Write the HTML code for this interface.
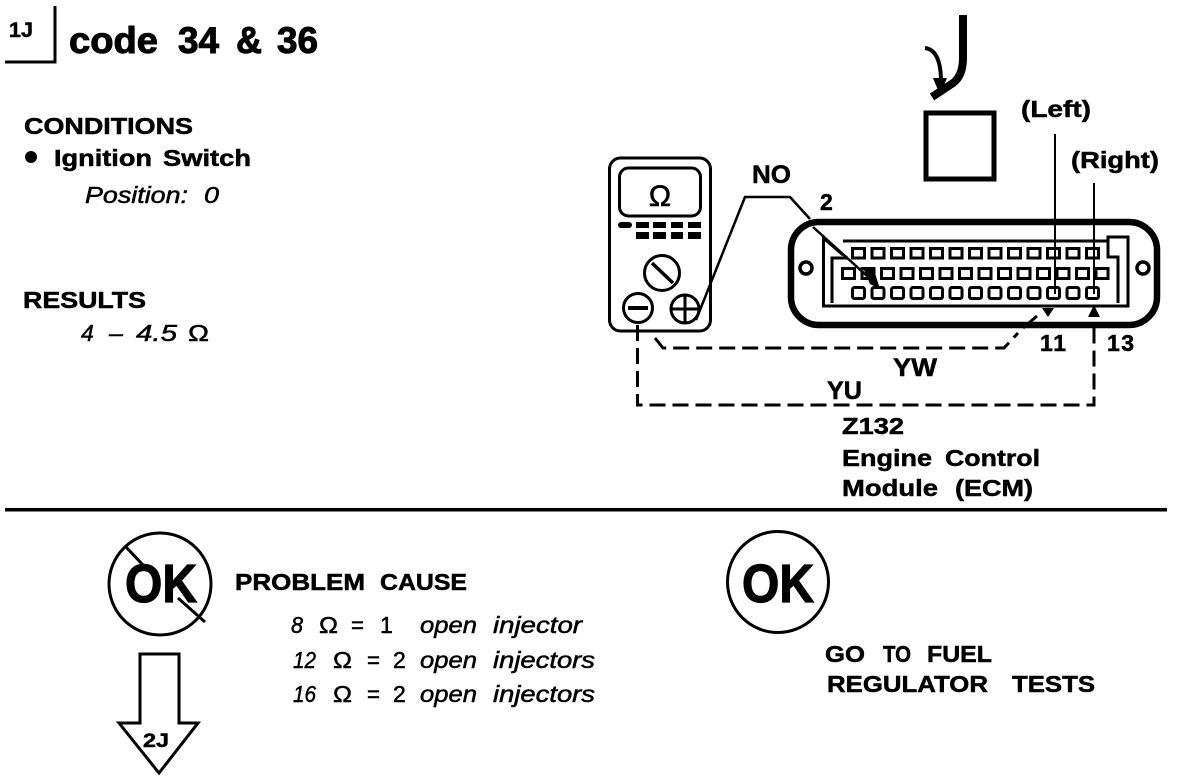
<!DOCTYPE html>
<html><head><meta charset="utf-8"><style>
html,body{margin:0;padding:0;background:#fff;width:1184px;height:782px;overflow:hidden}
svg{display:block}
text{font-family:"Liberation Sans",sans-serif;fill:#000}
.b{font-weight:bold;stroke:#000;stroke-width:.5px}
.i{font-style:italic;stroke:#000;stroke-width:.5px}
.l{fill:none;stroke:#000}
</style></head><body>
<svg width="1184" height="782" viewBox="0 0 1184 782" xmlns="http://www.w3.org/2000/svg">
<!-- header -->
<path class="l" stroke-width="3" d="M5 62H55V6"/>
<text x="9" y="37" class="b" font-size="21" textLength="24" lengthAdjust="spacingAndGlyphs">1J</text>
<g class="b" font-size="37" style="stroke-width:1px">
<text x="69" y="53" textLength="89" lengthAdjust="spacingAndGlyphs">code</text>
<text x="178" y="53" textLength="41" lengthAdjust="spacingAndGlyphs">34</text>
<text x="236" y="53" textLength="26" lengthAdjust="spacingAndGlyphs">&amp;</text>
<text x="277" y="53" textLength="41" lengthAdjust="spacingAndGlyphs">36</text>
</g>
<text x="24" y="134" class="b" font-size="23" textLength="169" lengthAdjust="spacingAndGlyphs">CONDITIONS</text>
<circle cx="31" cy="157" r="6"/>
<text x="54" y="166" class="b" font-size="23" textLength="98" lengthAdjust="spacingAndGlyphs">Ignition</text>
<text x="163" y="166" class="b" font-size="23" textLength="88" lengthAdjust="spacingAndGlyphs">Switch</text>
<text x="85" y="203" class="i" font-size="23" textLength="103" lengthAdjust="spacingAndGlyphs">Position:</text>
<text x="204" y="203" class="i" font-size="23" textLength="15" lengthAdjust="spacingAndGlyphs">0</text>
<text x="23" y="308" class="b" font-size="23" textLength="123" lengthAdjust="spacingAndGlyphs">RESULTS</text>
<text x="81" y="341" class="i" font-size="23">4</text>
<text x="109" y="341" class="i" font-size="23" textLength="14" lengthAdjust="spacingAndGlyphs">–</text>
<text x="136" y="341" class="i" font-size="23" textLength="41" lengthAdjust="spacingAndGlyphs">4.5</text>
<text x="188" y="341" font-size="23" stroke="#000" stroke-width=".5" textLength="21" lengthAdjust="spacingAndGlyphs">Ω</text>

<!-- hand-held symbol -->
<path class="l" stroke-width="8" d="M963 15V58Q963 78 950 85L932 97"/>
<path class="l" stroke-width="4" d="M925 48Q941 50 941 82"/>
<path d="M933 78H947L940 95Z"/>
<rect x="926" y="113" width="68" height="66" class="l" stroke-width="5"/>

<!-- labels -->
<text x="1021" y="117" class="b" font-size="23" textLength="70" lengthAdjust="spacingAndGlyphs">(Left)</text>
<text x="1071" y="168" class="b" font-size="23" textLength="88" lengthAdjust="spacingAndGlyphs">(Right)</text>
<text x="752" y="183" class="b" font-size="25" textLength="39" lengthAdjust="spacingAndGlyphs">NO</text>
<text x="820" y="210" class="b" font-size="23">2</text>
<text x="1040" y="351" class="b" font-size="23" textLength="26" lengthAdjust="spacing">11</text>
<text x="1107" y="351" class="b" font-size="23" textLength="27" lengthAdjust="spacing">13</text>
<text x="893" y="376" class="b" font-size="25" textLength="44" lengthAdjust="spacingAndGlyphs">YW</text>
<text x="827" y="399" class="b" font-size="25" textLength="35" lengthAdjust="spacingAndGlyphs">YU</text>
<text x="842" y="434" class="b" font-size="23" textLength="62" lengthAdjust="spacingAndGlyphs">Z132</text>
<text x="842" y="466" class="b" font-size="23" textLength="90" lengthAdjust="spacingAndGlyphs">Engine</text>
<text x="945" y="466" class="b" font-size="23" textLength="95" lengthAdjust="spacingAndGlyphs">Control</text>
<text x="842" y="496" class="b" font-size="23" textLength="96" lengthAdjust="spacingAndGlyphs">Module</text>
<text x="955" y="496" class="b" font-size="23" textLength="78" lengthAdjust="spacingAndGlyphs">(ECM)</text>

<!-- meter -->
<rect x="609.5" y="158" width="101" height="173" rx="11" class="l" stroke-width="3"/>
<rect x="619.5" y="168" width="81" height="48" rx="9" class="l" stroke-width="3"/>
<text x="660" y="206" font-size="30" text-anchor="middle" stroke="#000" stroke-width=".6">Ω</text>
<g>
<rect x="618" y="222" width="14" height="6" rx="3"/><rect x="636" y="222" width="13" height="6"/><rect x="653" y="222" width="13" height="6"/><rect x="671" y="222" width="12" height="6"/><rect x="688" y="222" width="13" height="6"/>
<rect x="636" y="232" width="13" height="7"/><rect x="653" y="232" width="13" height="7"/><rect x="671" y="232" width="12" height="7"/><rect x="688" y="232" width="13" height="7"/>
</g>
<circle cx="662" cy="273" r="17.5" class="l" stroke-width="3"/>
<path class="l" stroke-width="3.5" d="M652 263L673 283"/>
<circle cx="638" cy="308" r="14.5" class="l" stroke-width="3"/>
<path class="l" stroke-width="4" d="M628 308H648"/>
<circle cx="685" cy="309" r="14" class="l" stroke-width="3"/>
<path class="l" stroke-width="3" d="M671 309H699M685 295V323"/>

<!-- NO wire -->
<path class="l" stroke-width="2.5" d="M696 320L745 197H790L810 219"/>

<!-- connector -->
<rect x="791" y="222" width="366" height="103" rx="28" class="l" stroke-width="6.5"/>
<circle cx="806" cy="268" r="6" class="l" stroke-width="3.5"/>
<circle cx="1143" cy="268" r="6" class="l" stroke-width="3.5"/>
<path class="l" stroke-width="3" d="M843 241H1108V237H1128V306H823.5V238L843 255M832 303V258H848M1108 241V257H1118V303"/>
<g fill="#fff" stroke="#000" stroke-width="3">
<rect x="852.5" y="248.5" width="12" height="9.5"/><rect x="872" y="248.5" width="12" height="9.5"/><rect x="891.5" y="248.5" width="12" height="9.5"/><rect x="911" y="248.5" width="12" height="9.5"/><rect x="930.5" y="248.5" width="12" height="9.5"/><rect x="950" y="248.5" width="12" height="9.5"/><rect x="969.5" y="248.5" width="12" height="9.5"/><rect x="989" y="248.5" width="12" height="9.5"/><rect x="1008.5" y="248.5" width="12" height="9.5"/><rect x="1028" y="248.5" width="12" height="9.5"/><rect x="1047.5" y="248.5" width="12" height="9.5"/><rect x="1067" y="248.5" width="12" height="9.5"/><rect x="1086.5" y="248.5" width="12" height="9.5"/>
<rect x="842.5" y="268.5" width="12" height="10"/><rect x="862" y="268.5" width="12" height="10"/><rect x="881.5" y="268.5" width="12" height="10"/><rect x="901" y="268.5" width="12" height="10"/><rect x="920.5" y="268.5" width="12" height="10"/><rect x="940" y="268.5" width="12" height="10"/><rect x="959.5" y="268.5" width="12" height="10"/><rect x="979" y="268.5" width="12" height="10"/><rect x="998.5" y="268.5" width="12" height="10"/><rect x="1018" y="268.5" width="12" height="10"/><rect x="1037.5" y="268.5" width="12" height="10"/><rect x="1057" y="268.5" width="12" height="10"/><rect x="1076.5" y="268.5" width="12" height="10"/><rect x="1096" y="268.5" width="12" height="10"/>
<rect x="852.5" y="287.5" width="12" height="11" rx="2"/><rect x="872" y="287.5" width="12" height="11" rx="2"/><rect x="891.5" y="287.5" width="12" height="11" rx="2"/><rect x="911" y="287.5" width="12" height="11" rx="2"/><rect x="930.5" y="287.5" width="12" height="11" rx="2"/><rect x="950" y="287.5" width="12" height="11" rx="2"/><rect x="969.5" y="287.5" width="12" height="11" rx="2"/><rect x="989" y="287.5" width="12" height="11" rx="2"/><rect x="1008.5" y="287.5" width="12" height="11" rx="2"/><rect x="1028" y="287.5" width="12" height="11" rx="2"/><rect x="1047.5" y="287.5" width="12" height="11" rx="2"/><rect x="1067" y="287.5" width="12" height="11" rx="2"/><rect x="1086.5" y="287.5" width="12" height="11" rx="2"/>
</g>
<path class="l" stroke-width="2.5" d="M813 227L877 285"/>
<path d="M864 270H874L880 289L870 284Z"/>
<path class="l" stroke-width="2" d="M1055 134V294M1094 183V294"/>
<path d="M1088 317H1100L1094 305Z"/>
<path d="M1042 308H1054L1048 317Z"/>

<!-- dashed wires -->
<path class="l" stroke-width="3" stroke-dasharray="16 7" d="M655 338L663 348H1004L1018 333"/>
<path class="l" stroke-width="3" d="M1023 328L1037 316"/>
<path class="l" stroke-width="3" stroke-dasharray="16 7" d="M637.5 325V405H1094V328"/>

<!-- divider -->
<rect x="5" y="508" width="1162" height="3.5"/>

<!-- not OK -->
<circle cx="160" cy="584" r="51" class="l" stroke-width="3"/>
<text x="125" y="602" class="b" font-size="54" style="stroke-width:1.2px" textLength="72" lengthAdjust="spacingAndGlyphs">OK</text>
<path class="l" stroke-width="3" d="M125 546L143 565M178 598L205 622"/>
<text x="235" y="590" class="b" font-size="23" textLength="130" lengthAdjust="spacingAndGlyphs">PROBLEM</text>
<text x="380" y="590" class="b" font-size="23" textLength="87" lengthAdjust="spacingAndGlyphs">CAUSE</text>
<g class="i" font-size="23">
<text x="291" y="633" textLength="12" lengthAdjust="spacingAndGlyphs">8</text><text x="420" y="633" textLength="57" lengthAdjust="spacingAndGlyphs">open</text><text x="493" y="633" textLength="89" lengthAdjust="spacingAndGlyphs">injector</text>
<text x="293" y="668" textLength="23" lengthAdjust="spacingAndGlyphs">12</text><text x="420" y="668" textLength="57" lengthAdjust="spacingAndGlyphs">open</text><text x="493" y="668" textLength="102" lengthAdjust="spacingAndGlyphs">injectors</text>
<text x="293" y="702" textLength="23" lengthAdjust="spacingAndGlyphs">16</text><text x="420" y="702" textLength="57" lengthAdjust="spacingAndGlyphs">open</text><text x="493" y="702" textLength="102" lengthAdjust="spacingAndGlyphs">injectors</text>
</g>
<g font-size="23" stroke="#000" stroke-width=".5">
<text x="319" y="633" textLength="19" lengthAdjust="spacingAndGlyphs">Ω</text><text x="351" y="633" textLength="13" lengthAdjust="spacingAndGlyphs">=</text><text x="380" y="633">1</text>
<text x="333" y="668" textLength="19" lengthAdjust="spacingAndGlyphs">Ω</text><text x="367" y="668" textLength="13" lengthAdjust="spacingAndGlyphs">=</text><text x="393" y="668">2</text>
<text x="333" y="702" textLength="19" lengthAdjust="spacingAndGlyphs">Ω</text><text x="367" y="702" textLength="13" lengthAdjust="spacingAndGlyphs">=</text><text x="393" y="702">2</text>
</g>

<!-- arrow -->
<path class="l" stroke-width="3" d="M140 654H179V723H198L159 773L119 723H140Z"/>
<text x="143" y="747" class="b" font-size="19" textLength="26" lengthAdjust="spacingAndGlyphs">2J</text>

<!-- OK -->
<circle cx="778" cy="582" r="50.5" class="l" stroke-width="3"/>
<text x="742" y="602" class="b" font-size="54" style="stroke-width:1.2px" textLength="72" lengthAdjust="spacingAndGlyphs">OK</text>
<text x="825" y="662" class="b" font-size="23" textLength="40" lengthAdjust="spacingAndGlyphs">GO</text>
<text x="883" y="662" class="b" font-size="23" textLength="28" lengthAdjust="spacingAndGlyphs">TO</text>
<text x="927" y="662" class="b" font-size="23" textLength="65" lengthAdjust="spacingAndGlyphs">FUEL</text>
<text x="827" y="692" class="b" font-size="23" textLength="161" lengthAdjust="spacingAndGlyphs">REGULATOR</text>
<text x="1012" y="692" class="b" font-size="23" textLength="83" lengthAdjust="spacingAndGlyphs">TESTS</text>
</svg>
</body></html>
